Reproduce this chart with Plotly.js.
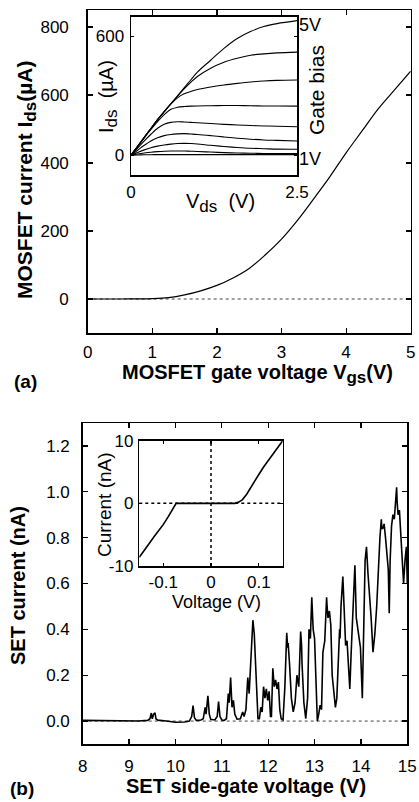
<!DOCTYPE html>
<html>
<head>
<meta charset="utf-8">
<script src="https://cdn.plot.ly/plotly-3.0.1.min.js"></script>
<style>html,body{margin:0;padding:0;background:#fff;}#chart{width:419px;height:802px;}</style>
</head>
<body>
<div id="chart"></div>
<script>
// ---- Panel (a): MOSFET transfer curve ----
const vgs = [0, 0.25, 0.5, 0.75, 1.0, 1.25, 1.5, 1.75, 2.0, 2.25, 2.5, 2.75, 3.0, 3.25, 3.5, 3.75, 4.0, 4.25, 4.5, 4.75, 5.0];
const ids = [0, 0, 0, 0.3, 1, 4, 12, 24, 40, 62, 90, 130, 176, 232, 295, 360, 430, 495, 560, 615, 670];

// ---- Inset (a): output curves, gate bias 5V ... 1V ----
const vds = [0, 0.1, 0.2, 0.3, 0.4, 0.5, 0.6, 0.7, 0.8, 0.9, 1.0, 1.2, 1.4, 1.6, 1.8, 2.0, 2.2, 2.5];
const ids5V  = [0, 45, 90, 135, 180, 220, 260, 300, 340, 380, 420, 480, 540, 590, 625, 650, 665, 680];
const ids45V = [0, 45, 90, 135, 180, 220, 260, 298, 335, 368, 398, 440, 470, 490, 505, 512, 517, 521];
const ids4V  = [0, 45, 90, 135, 180, 220, 258, 290, 310, 322, 332, 345, 355, 363, 370, 375, 378, 380];
const ids35V = [0, 44, 88, 130, 170, 205, 232, 242, 246, 248, 249, 250, 251, 251, 250, 249, 249, 248];
const ids3V  = [0, 36, 72, 106, 136, 156, 166, 169, 168, 166, 164, 160, 156, 153, 150, 148, 146, 144];
const ids25V = [0, 25, 50, 72, 88, 99, 105, 108, 109, 107, 105, 99, 92, 86, 81, 77, 75, 72];
const ids2V  = [0, 14, 27, 38, 46, 52, 56, 59, 60, 59, 57, 50, 44, 39, 35, 33, 31, 30];
const ids15V = [0, 6, 11, 15, 18, 20, 21, 21, 21, 20, 19, 16, 13, 11, 10, 9, 8.5, 8];
const ids1V  = [0, 1, 2, 2.5, 3, 3, 3, 3, 3, 3, 3, 3, 3, 3, 3, 3, 3, 3];
const insetCurves = [ids5V, ids45V, ids4V, ids35V, ids3V, ids25V, ids2V, ids15V, ids1V];

// ---- Panel (b): SET current vs side-gate voltage ----
const setV = [8.0, 8.3, 8.6, 8.9, 9.2, 9.4, 9.45, 9.48, 9.5, 9.53, 9.56, 9.58, 9.62, 9.8, 10.0, 10.2, 10.3, 10.35, 10.38, 10.41, 10.45, 10.55, 10.6, 10.64, 10.66, 10.7, 10.73, 10.76, 10.85, 10.9, 10.93, 10.96, 11.0, 11.05, 11.1, 11.14, 11.16, 11.19, 11.22, 11.25, 11.28, 11.33, 11.4, 11.45, 11.48, 11.52, 11.56, 11.59, 11.61, 11.64, 11.67, 11.7, 11.73, 11.76, 11.78, 11.81, 11.84, 11.87, 11.9, 11.93, 11.96, 11.99, 12.02, 12.05, 12.07, 12.1, 12.13, 12.16, 12.19, 12.22, 12.25, 12.28, 12.32, 12.36, 12.4, 12.42, 12.43, 12.46, 12.5, 12.54, 12.58, 12.62, 12.66, 12.7, 12.72, 12.73, 12.77, 12.81, 12.85, 12.88, 12.91, 12.94, 12.95, 12.97, 13.0, 13.03, 13.06, 13.09, 13.12, 13.15, 13.18, 13.22, 13.24, 13.26, 13.27, 13.29, 13.32, 13.33, 13.35, 13.38, 13.42, 13.45, 13.48, 13.51, 13.54, 13.55, 13.57, 13.61, 13.62, 13.64, 13.67, 13.7, 13.73, 13.76, 13.79, 13.83, 13.86, 13.87, 13.9, 13.93, 13.96, 13.99, 14.03, 14.06, 14.09, 14.11, 14.12, 14.15, 14.19, 14.22, 14.26, 14.28, 14.3, 14.34, 14.38, 14.41, 14.44, 14.45, 14.47, 14.5, 14.53, 14.56, 14.59, 14.61, 14.63, 14.66, 14.69, 14.72, 14.75, 14.77, 14.78, 14.8, 14.83, 14.86, 14.89, 14.92, 14.95, 14.98, 15.0];
const setI = [0.003, 0.002, 0.0, 0.002, 0.0, 0.003, 0.01, 0.035, 0.01, 0.03, 0.036, 0.01, 0.004, 0.0, -0.005, -0.004, 0.0, 0.02, 0.068, 0.015, 0.003, 0.005, 0.01, 0.06, 0.03, 0.11, 0.03, 0.008, 0.005, 0.02, 0.085, 0.02, 0.005, 0.003, 0.01, 0.12, 0.08, 0.19, 0.06, 0.09, 0.03, 0.008, 0.01, 0.04, 0.02, 0.05, 0.19, 0.12, 0.2, 0.3, 0.44, 0.38, 0.22, 0.1, 0.01, 0.01, 0.06, 0.04, 0.15, 0.1, 0.14, 0.09, 0.13, 0.02, 0.02, 0.23, 0.15, 0.18, 0.14, 0.17, 0.05, 0.01, 0.005, 0.15, 0.385, 0.32, 0.34, 0.25, 0.1, 0.04, 0.08, 0.2, 0.15, 0.39, 0.33, 0.25, 0.08, 0.01, 0.1, 0.4, 0.36, 0.54, 0.48, 0.4, 0.36, 0.2, 0.0, 0.03, 0.07, 0.05, 0.3, 0.35, 0.48, 0.54, 0.5, 0.45, 0.48, 0.44, 0.42, 0.2, 0.12, 0.06, 0.1, 0.25, 0.4, 0.36, 0.5, 0.63, 0.58, 0.45, 0.33, 0.35, 0.22, 0.14, 0.3, 0.5, 0.62, 0.68, 0.45, 0.4, 0.36, 0.32, 0.1, 0.45, 0.7, 0.74, 0.76, 0.65, 0.54, 0.45, 0.3, 0.34, 0.38, 0.5, 0.7, 0.8, 0.88, 0.84, 0.84, 0.86, 0.8, 0.72, 0.66, 0.47, 0.7, 0.85, 0.9, 0.88, 0.95, 1.02, 0.96, 0.9, 0.92, 0.8, 0.74, 0.6, 0.7, 0.76, 0.6];

// ---- Inset (b): SET I-V ----
const ivV = [-0.15, -0.14, -0.13, -0.12, -0.11, -0.1, -0.09, -0.08, -0.073, -0.04, 0, 0.03, 0.05, 0.058, 0.066, 0.075, 0.085, 0.1, 0.11, 0.12, 0.13, 0.14, 0.15];
const ivI = [-8.6, -7.6, -6.5, -5.4, -4.4, -3.4, -2.2, -1.0, 0, 0, 0, 0, 0, 0.2, 0.6, 1.5, 2.8, 4.6, 5.8, 6.9, 8.0, 9.0, 10.0];

const W = 419, H = 802;
const px = x => x / W;
const py = y => 1 - y / H;
const FONT = 'Liberation Sans, Arial, Helvetica, sans-serif';

const traces = [];
traces.push({x: [0, 5], y: [0, 0], xaxis: 'x', yaxis: 'y', mode: 'lines', line: {color: '#444', width: 1, dash: 'dot'}, hoverinfo: 'skip'});
traces.push({x: vgs, y: ids, xaxis: 'x', yaxis: 'y', mode: 'lines', line: {color: '#000', width: 1.2, shape: 'spline'}});
insetCurves.forEach(c => traces.push({x: vds, y: c, xaxis: 'x2', yaxis: 'y2', mode: 'lines', line: {color: '#000', width: 1.1, shape: 'spline'}}));
traces.push({x: [8, 15], y: [0, 0], xaxis: 'x3', yaxis: 'y3', mode: 'lines', line: {color: '#444', width: 1, dash: 'dot'}, hoverinfo: 'skip'});
traces.push({x: setV, y: setI, xaxis: 'x3', yaxis: 'y3', mode: 'lines', line: {color: '#000', width: 1.6}});
traces.push({x: [-0.15, 0.15], y: [0, 0], xaxis: 'x4', yaxis: 'y4', mode: 'lines', line: {color: '#000', width: 1.5, dash: 'dot'}, hoverinfo: 'skip'});
traces.push({x: [0, 0], y: [-10, 10], xaxis: 'x4', yaxis: 'y4', mode: 'lines', line: {color: '#000', width: 1.5, dash: 'dot'}, hoverinfo: 'skip'});
traces.push({x: ivV, y: ivI, xaxis: 'x4', yaxis: 'y4', mode: 'lines', line: {color: '#000', width: 1.6}});

const axBase = {showgrid: false, zeroline: false, showline: true, linecolor: '#000', linewidth: 1.5, mirror: 'ticks', ticks: 'inside', ticklen: 5, tickcolor: '#000', tickwidth: 1.2, fixedrange: true};

const sub = (t, s) => '<sub><span style="font-size:' + s + 'px">' + t + '</span></sub>';

const layout = {
  width: W, height: H,
  margin: {l: 0, r: 0, t: 0, b: 0},
  paper_bgcolor: '#fff', plot_bgcolor: 'rgba(0,0,0,0)',
  showlegend: false,
  font: {family: FONT, color: '#000'},
  xaxis: Object.assign({}, axBase, {domain: [px(87.7), px(410.7)], range: [0, 5], anchor: 'y', tickvals: [0, 1, 2, 3, 4, 5], tickfont: {size: 17}, ticklabelstandoff: 3}),
  yaxis: Object.assign({}, axBase, {domain: [py(333), py(10)], range: [-100, 850], anchor: 'x', tickvals: [0, 200, 400, 600, 800], tickfont: {size: 17}, ticklabelstandoff: 14}),
  xaxis2: Object.assign({}, axBase, {domain: [px(131), px(297)], range: [0, 2.5], anchor: 'y2', tickvals: [0, 2.5], ticktext: ['0', '2.5'], ticklen: 3, tickfont: {size: 17}, ticklabelstandoff: 1}),
  yaxis2: Object.assign({}, axBase, {domain: [py(175), py(16.7)], range: [-100, 700], anchor: 'x2', tickvals: [0, 600], ticklen: 3, tickfont: {size: 17}, ticklabelstandoff: 2}),
  xaxis3: Object.assign({}, axBase, {domain: [px(82.7), px(407.3)], range: [8, 15], anchor: 'y3', tickvals: [8, 9, 10, 11, 12, 13, 14, 15], tickfont: {size: 17}, ticklabelstandoff: 6}),
  yaxis3: Object.assign({}, axBase, {domain: [py(744), py(423)], range: [-0.1, 1.3], anchor: 'x3', tickvals: [0, 0.2, 0.4, 0.6, 0.8, 1.0, 1.2], tickformat: '.1f', tickfont: {size: 17}, ticklabelstandoff: 8}),
  xaxis4: Object.assign({}, axBase, {domain: [px(139.3), px(282.7)], range: [-0.15, 0.15], anchor: 'y4', tickvals: [-0.1, 0, 0.1], ticktext: ['-0.1', '0', '0.1'], ticklen: 3, tickfont: {size: 17}, ticklabelstandoff: 0}),
  yaxis4: Object.assign({}, axBase, {domain: [py(566), py(440.7)], range: [-10, 10], anchor: 'x4', tickvals: [-10, 0, 10], ticktext: ['-10', '0', '10'], ticklen: 3, tickfont: {size: 17}, ticklabelstandoff: 1}),
  annotations: [
    {text: '<b>MOSFET current I' + sub('ds', 17) + '(µA)</b>', xref: 'paper', yref: 'paper', x: px(26), y: py(180), textangle: -90, showarrow: false, font: {size: 21}, xanchor: 'center', yanchor: 'middle'},
    {text: '<b>MOSFET gate voltage V' + sub('gs', 17) + '(V)</b>', xref: 'paper', yref: 'paper', x: px(257), y: py(374), showarrow: false, font: {size: 20}, xanchor: 'center', yanchor: 'middle'},
    {text: '<b>(a)</b>', xref: 'paper', yref: 'paper', x: px(25), y: py(381), showarrow: false, font: {size: 19}, xanchor: 'center', yanchor: 'middle'},
    {text: 'I' + sub('ds', 17) + '  (µA)', xref: 'paper', yref: 'paper', x: px(108), y: py(97), textangle: -90, showarrow: false, font: {size: 20}, xanchor: 'center', yanchor: 'middle'},
    {text: 'V' + sub('ds', 17) + '  (V)', xref: 'paper', yref: 'paper', x: px(221), y: py(203), showarrow: false, font: {size: 20}, xanchor: 'center', yanchor: 'middle'},
    {text: '5V', xref: 'paper', yref: 'paper', x: px(297), y: py(25), showarrow: false, font: {size: 18}, xanchor: 'left', yanchor: 'middle'},
    {text: '1V', xref: 'paper', yref: 'paper', x: px(297), y: py(159), showarrow: false, font: {size: 18}, xanchor: 'left', yanchor: 'middle'},
    {text: 'Gate bias', xref: 'paper', yref: 'paper', x: px(316), y: py(90), textangle: -90, showarrow: false, font: {size: 21}, xanchor: 'center', yanchor: 'middle'},
    {text: '<b>SET current (nA)</b>', xref: 'paper', yref: 'paper', x: px(18), y: py(586), textangle: -90, showarrow: false, font: {size: 20}, xanchor: 'center', yanchor: 'middle'},
    {text: '<b>SET side-gate voltage (V)</b>', xref: 'paper', yref: 'paper', x: px(246), y: py(786), showarrow: false, font: {size: 20}, xanchor: 'center', yanchor: 'middle'},
    {text: '<b>(b)</b>', xref: 'paper', yref: 'paper', x: px(22), y: py(788), showarrow: false, font: {size: 19}, xanchor: 'center', yanchor: 'middle'},
    {text: 'Current (nA)', xref: 'paper', yref: 'paper', x: px(104), y: py(505), textangle: -90, showarrow: false, font: {size: 19}, xanchor: 'center', yanchor: 'middle'},
    {text: 'Voltage (V)', xref: 'paper', yref: 'paper', x: px(216), y: py(602), showarrow: false, font: {size: 18}, xanchor: 'center', yanchor: 'middle'}
  ]
};

Plotly.newPlot('chart', traces, layout, {staticPlot: true, displayModeBar: false});
</script>
</body>
</html>
